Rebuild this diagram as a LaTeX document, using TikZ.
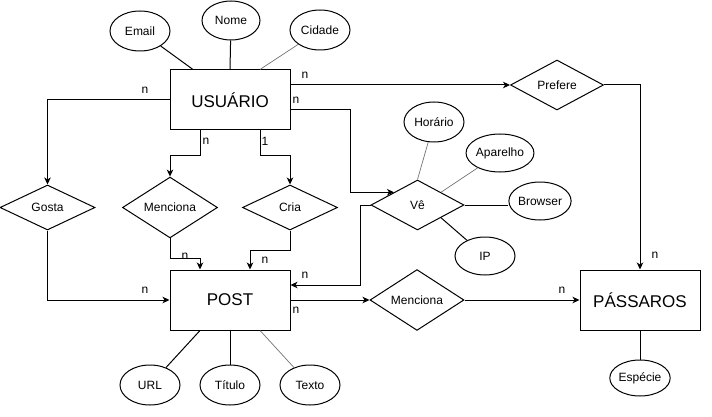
\documentclass[tikz,border=0pt]{standalone}
\usepackage{fontspec}
\setmainfont{Liberation Sans}
\usetikzlibrary{shapes.geometric,arrows.meta}
\begin{document}
\begin{tikzpicture}[x=1pt,y=-1pt,
  every node/.style={font=\fontsize{12}{14}\selectfont, inner sep=0pt},
  entity/.style={draw, line width=1pt, minimum width=120pt, minimum height=60pt, font=\fontsize{17}{20}\selectfont},
  attr/.style={draw, line width=1pt, ellipse, minimum width=60pt, minimum height=40pt},
  rel/.style={draw, line width=1pt, diamond, minimum width=94pt, minimum height=48pt},
  conn/.style={line width=1pt},
  arr/.style={line width=1pt, -{Stealth[length=7pt,width=6.5pt,inset=2pt]}},
  grayconn/.style={line width=0.7pt, draw=black!55},
  card/.style={font=\fontsize{12}{14}\selectfont}]
\useasboundingbox (0,0) rectangle (712,417);
% entities
\node[entity] (usu) at (230,100) {USUÁRIO};
\node[entity] (post) at (230,300) {POST};
\node[entity] (pas) at (640,300) {PÁSSAROS};
% relationships
\node[rel, minimum height=45pt, minimum width=95pt] (gosta) at (47.5,207.5) {Gosta};
\node[rel, minimum height=45pt, minimum width=95pt] (men1) at (170,207.5) {Menciona};
\node[rel, minimum height=45pt, minimum width=95pt] (cria) at (290,207.5) {Cria};
\node[rel, minimum height=50pt, minimum width=93pt] (pref) at (557,85) {Prefere};
\node[rel, minimum height=50pt, minimum width=93pt] (ve) at (417.5,205) {Vê};
\node[rel, minimum height=50pt, minimum width=94pt] (men2) at (417,300) {Menciona};
% attributes
\node[attr] (email) at (140,31) {Email};
\node[attr, minimum height=39pt, minimum width=58pt] (nome) at (231,20.5) {Nome};
\node[attr] (cidade) at (320,30) {Cidade};
\node[attr] (url) at (150,385) {URL};
\node[attr] (titulo) at (230,385) {Título};
\node[attr] (texto) at (310,385) {Texto};
\node[attr, minimum height=36pt] (esp) at (640,378) {Espécie};
\node[attr] (hor) at (434,122) {Horário};
\node[attr, minimum height=38pt] (apa) at (500,153) {Aparelho};
\node[attr, minimum height=38pt] (brow) at (540,201) {Browser};
\node[attr, minimum height=38pt] (ip) at (485,256) {IP};
% attribute lines
\draw[conn] (email) -- ([xshift=-37pt]usu.north);
\draw[conn] (nome) -- (usu.north);
\draw[grayconn] (cidade) -- ([xshift=30pt]usu.north);
\draw[conn] (url) -- ([xshift=-30pt]post.south);
\draw[conn] (titulo) -- (post.south);
\draw[grayconn] (texto) -- ([xshift=30pt]post.south);
\draw[conn] (esp) -- (pas.south);
\draw[grayconn] (hor) -- (ve.north);
\draw[grayconn] (apa) -- (ve.north east);
\draw[conn] (ve.east) -- ([yshift=-4pt]brow.west);
\draw[conn] (ve.south east) -- (ip);
% relationship connectors
\draw[arr] (usu.west) -| (gosta.north);
\draw[arr] (gosta.south) |- (post.west);
\draw[arr] ([xshift=-30pt]usu.south) -- ++(0,25) -| (men1.north);
\draw[arr] ([xshift=30pt]usu.south) -- ++(0,25) -| (cria.north);
\draw[arr] (men1.south) -- ++(0,20) -| ([xshift=-30pt]post.north);
\draw[arr] (cria.south) -- ++(0,20) -| ([xshift=20pt]post.north);
\draw[arr] ([yshift=15pt]usu.east) -- (pref.west);
\draw[arr] (pref.east) -| (pas.north);
\draw[arr] ([yshift=-10pt]usu.east) -| ([xshift=-44pt]ve.north west) -- (ve.north west);
\draw[arr] (ve.west) -- ++(-10,0) |- ([yshift=15pt]post.east);
\draw[arr] (post.east) -- (men2.west);
\draw[arr] (men2.east) -- (pas.west);
% cardinalities
\node[card] (c1) at (145,90) {n};
\node[card] (c2) at (206,141) {n};
\node[card] (c3) at (265,141) {1};
\node[card] (c4) at (305,75) {n};
\node[card] (c5) at (296,100) {n};
\node[card] (c6) at (185,256) {n};
\node[card] (c7) at (265,260) {n};
\node[card] (c8) at (145,290) {n};
\node[card] (c9) at (305,275) {n};
\node[card] (c10) at (296,310) {n};
\node[card] (c11) at (562,290) {n};
\node[card] (c12) at (655,255) {n};
\end{tikzpicture}
\end{document}
